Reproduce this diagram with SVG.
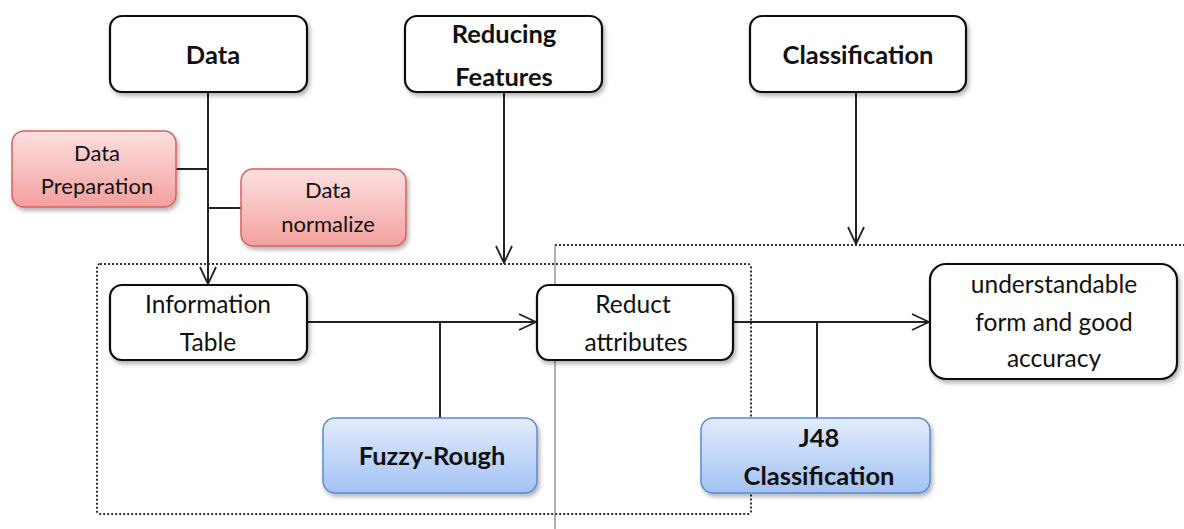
<svg xmlns="http://www.w3.org/2000/svg" width="1184" height="529" viewBox="0 0 1184 529">
<defs>
<linearGradient id="gRed" x1="0" y1="0" x2="0" y2="1"><stop offset="0" stop-color="#fde0df"/><stop offset="1" stop-color="#f3a09e"/></linearGradient>
<linearGradient id="gBlue" x1="0" y1="0" x2="0" y2="1"><stop offset="0" stop-color="#e3ecfc"/><stop offset="1" stop-color="#a3c2f4"/></linearGradient>
<filter id="sh" x="-10%" y="-10%" width="130%" height="140%"><feDropShadow dx="2" dy="3" stdDeviation="2" flood-color="#000" flood-opacity="0.3"/></filter>
<marker id="arr" viewBox="0 0 20 20" refX="19" refY="10" markerWidth="20" markerHeight="20" markerUnits="userSpaceOnUse" orient="auto"><path d="M2,2 L19,10 L2,18" fill="none" stroke="#222" stroke-width="1.8"/></marker>
</defs>
<style>
.w{fill:#fff;stroke:#111;stroke-width:2.2}
.r{fill:url(#gRed);stroke:#d5625f;stroke-width:1.5}
.b{fill:url(#gBlue);stroke:#5a8bd4;stroke-width:1.5}
text{font-family:Lato,"Open Sans","Liberation Sans",sans-serif;font-size:24.5px;fill:#111;text-anchor:middle}
.bold{font-weight:bold;font-size:25.5px}
.sm{font-size:22px}
.ln{stroke:#222;stroke-width:2;fill:none}
.dot{stroke:#333;stroke-width:2;fill:none;stroke-dasharray:2 2}
</style>
<g id="regions">
<rect x="97" y="264" width="654" height="250" rx="3" class="dot"/>
<path d="M555,245 H1184" class="dot"/>
<path d="M555,245 V529" stroke="#666" stroke-width="1" fill="none"/>
</g>
<g id="connectors">
<path d="M208,92 V284" class="ln" marker-end="url(#arr)"/>
<path d="M176,169 H208" class="ln"/>
<path d="M208,208 H241" class="ln"/>
<path d="M504,92 V263" class="ln" marker-end="url(#arr)"/>
<path d="M856,92 V244" class="ln" marker-end="url(#arr)"/>
<path d="M307,322 H536" class="ln" marker-end="url(#arr)"/>
<path d="M440,322 V418" class="ln"/>
<path d="M733,322 H929" class="ln" marker-end="url(#arr)"/>
<path d="M817,322 V418" class="ln"/>
</g>
<g id="data"><rect x="110" y="16" width="197" height="76" rx="12" class="w" filter="url(#sh)"/><text x="213" y="64" class="bold">Data</text></g>
<g id="reducing"><rect x="405" y="16" width="197" height="76" rx="12" class="w" filter="url(#sh)"/><text x="504" y="43" class="bold">Reducing</text><text x="504" y="86" class="bold">Features</text></g>
<g id="classification"><rect x="750" y="16" width="216" height="76" rx="12" class="w" filter="url(#sh)"/><text x="858" y="64" class="bold">Classification</text></g>
<g id="dataprep"><rect x="12" y="131" width="164" height="76" rx="12" class="r" filter="url(#sh)"/><text x="97" y="161" class="sm">Data</text><text x="97" y="194" class="sm">Preparation</text></g>
<g id="datanorm"><rect x="241" y="169" width="165" height="77" rx="12" class="r" filter="url(#sh)"/><text x="328" y="198" class="sm">Data</text><text x="328" y="232" class="sm">normalize</text></g>
<g id="infotable"><rect x="110" y="285" width="197" height="75" rx="12" class="w" filter="url(#sh)"/><text x="208" y="313">Information</text><text x="208" y="351">Table</text></g>
<g id="reduct"><rect x="537" y="285" width="196" height="75" rx="12" class="w" filter="url(#sh)"/><text x="633" y="313">Reduct</text><text x="636" y="351">attributes</text></g>
<g id="result"><rect x="930" y="264" width="247" height="115" rx="16" class="w" filter="url(#sh)"/><text x="1054" y="293">understandable</text><text x="1054" y="331">form and good</text><text x="1054" y="367">accuracy</text></g>
<g id="fuzzy"><rect x="323" y="418" width="214" height="75" rx="12" class="b" filter="url(#sh)"/><text x="432" y="465" class="bold">Fuzzy-Rough</text></g>
<g id="j48"><rect x="701" y="418" width="229" height="75" rx="12" class="b" filter="url(#sh)"/><text x="819" y="447" class="bold">J48</text><text x="819" y="485" class="bold">Classification</text></g>
</svg>
